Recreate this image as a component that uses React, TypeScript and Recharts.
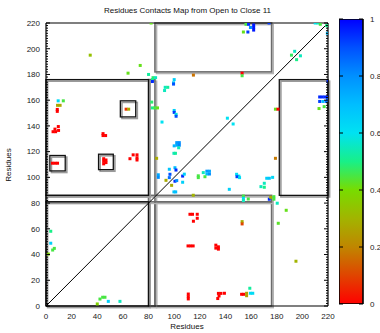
import React from 'react';
import {
  ScatterChart,
  Scatter,
  XAxis,
  YAxis,
  ReferenceArea,
  ReferenceLine,
  BarChart,
  Bar,
} from 'recharts';

const FONT = '"Liberation Sans", Arial, Helvetica, sans-serif';

// Axis ticks (residue numbers) and colour-scale ticks
const residueTicks = [0, 20, 40, 60, 80, 100, 120, 140, 160, 180, 200, 220];
const minorResidueTicks = Array.from({ length: 111 }, (_, i) => i * 2);
const scaleTicks = [0, 0.2, 0.4, 0.6, 0.8, 1];
const scaleRange = [{ name: 'scale', v: 1 }];

// Contacts: [residue i, residue j, contact value]
const upperBandContacts: [number, number, number][] = [
  [82, 220, 0.42], [156, 219, 0.45], [158, 219, 0.95], [159.5, 216.5, 0.8],
  [162, 218.5, 0.97], [162, 216.5, 0.97], [162, 214.5, 0.97], [154, 213, 0.42],
  [157.5, 213, 0.93], [174, 220, 0.93], [210, 220, 0.6], [212, 220, 0.55],
  [214, 219, 0.45], [219, 218, 0.5], [219.5, 212, 0.7],
  [194, 198, 0.55], [191.5, 195, 0.47], [198.5, 194.5, 0.55], [195.5, 191.5, 0.5],
  [34.5, 195, 0.33], [73.5, 187, 0.42], [64, 181, 0.42], [80, 180, 0.52],
  [115, 179.5, 0.17], [153, 181, 0], [153, 179, 0.45],
];

const hingeContacts: [number, number, number][] = [
  [83.5, 177.5, 0.48], [85.5, 177.5, 0.55], [83, 176, 0.5], [83, 174.5, 0.95],
  [100, 176, 0.65], [99.5, 173.5, 0.68], [99.5, 172.5, 0.9], [93, 170, 0.55],
  [95, 170, 0.52], [92.5, 167.5, 0.55], [82.5, 158.5, 0.48], [83, 154, 0.5],
  [85, 154, 0.45], [87, 154, 0.42], [100, 152, 0.65], [100, 150.5, 0.93],
  [101.5, 149, 0.58], [101.5, 147.5, 0.9], [141.5, 146, 0.6], [146, 141.5, 0.6],
  [90.5, 143, 0.6],
];

const rightBlockContacts: [number, number, number][] = [
  [213.5, 162.5, 0.95], [215.5, 162.5, 0.95], [217.5, 162.5, 0.95], [219.5, 162.5, 0.95],
  [219.5, 160.5, 0.9], [213.5, 159, 0.92], [216, 159, 0.7], [218.5, 159, 0.85],
  [220, 174.5, 0.95], [217, 155, 0.45], [213, 153.5, 0.42], [179, 153, 0.42],
  [181, 153, 0], [179, 114.8, 0.18],
];

const leftBlockContacts: [number, number, number][] = [
  [9.5, 159.5, 0.62], [13.5, 159.5, 0.45], [9, 156, 0.27], [11, 156, 0.27],
  [8.8, 152.8, 0], [8.8, 151.3, 0], [62.5, 153, 0.08], [64.5, 153, 0.28],
  [9.6, 139.5, 0], [5.5, 135.5, 0], [7.5, 135.5, 0], [7, 137.5, 0], [9.8, 136.5, 0],
  [44.5, 134, 0], [44.5, 132.5, 0], [46.5, 132.5, 0],
  [65.5, 114.5, 0], [68, 117.5, 0], [71, 117.5, 0], [71, 115.2, 0], [71, 113.5, 0],
  [5, 111, 0], [7, 111, 0], [9, 111, 0],
  [45, 114.5, 0], [46.8, 113.5, 0], [45, 112.5, 0], [46.8, 111.5, 0], [45, 110.5, 0],
];

const centralContacts: [number, number, number][] = [
  [102, 127, 0.78], [104, 127, 0.8], [102, 125, 0.75], [104, 125, 0.82],
  [100, 124.5, 0.72], [103.5, 123, 0.55], [99.8, 118.7, 0.55], [101, 118.7, 0.52],
  [86.3, 114.8, 0.28],
  [100.6, 107.5, 0.7], [101.4, 105.7, 0.95], [96.2, 106.3, 0.68],
  [87.6, 102, 0.75], [87.6, 100, 0.8], [96.7, 102.4, 0.9], [96.2, 99.8, 0.85],
  [93.6, 97.7, 0.28], [100.6, 97, 0.95], [102, 97.5, 0.8], [98, 93.8, 0.28],
  [99.8, 88.7, 0.68], [101.2, 88.7, 0.7],
  [106.6, 101, 0.95], [107.9, 102.5, 0.65], [106.6, 96.2, 0.65],
  [118.8, 99.8, 0.45], [118.8, 101.2, 0.45], [122.7, 103.7, 0.55],
  [125.5, 104.8, 0.78], [127.5, 104.8, 0.75], [125.5, 102.6, 0.7], [127.5, 102.6, 0.8],
  [124, 100.5, 0.45], [114.9, 86.1, 0.3], [143, 90.7, 0.65],
  [148.7, 102.4, 0.62], [150.5, 101, 0.6], [149, 100.5, 0.92], [151, 99.8, 0.62],
  [170.3, 95.4, 0.55], [167.7, 92.8, 0.55], [170.3, 92.3, 0.5],
  [172.2, 99.3, 0.65], [174.2, 99.3, 0.68], [176.8, 100, 0.63],
];

const lowerBandContacts: [number, number, number][] = [
  [154, 85.5, 0.45], [154, 83.7, 0.62], [157.8, 83.2, 0.45], [154, 82, 0.55],
  [174.2, 83, 0.95], [175.3, 84.5, 0.28], [177.8, 85, 0.45], [177.8, 83, 0.45],
  [180.4, 79.9, 0.55], [187.4, 74.4, 0.42], [181.2, 64.3, 0.43], [195, 34.8, 0.3],
  [112.3, 71.3, 0], [114.3, 71.3, 0], [118, 71.3, 0], [118, 68.2, 0], [115, 65.9, 0],
  [153, 65.6, 0.28], [153, 63.8, 0.1],
  [110.8, 46.7, 0], [112.8, 46.7, 0], [114.8, 46.7, 0],
  [132.5, 47.3, 0], [134.5, 46, 0], [132.5, 45, 0], [134.5, 44.2, 0],
  [111, 9.3, 0], [111, 7.3, 0], [111, 5.5, 0],
  [134.5, 9.8, 0], [136.5, 9.8, 0], [135, 7.8, 0], [134, 5.8, 0], [139.2, 9.9, 0],
  [152.6, 9.1, 0], [154.3, 9.1, 0], [156.5, 9.9, 0.25], [156.5, 8, 0.25],
  [159, 13.8, 0.52], [159.5, 9.9, 0.62], [161.3, 9.9, 0.62],
];

const cornerContacts: [number, number, number][] = [
  [3.7, 58.1, 0.5], [3.7, 48.8, 0.65], [5.2, 43.5, 0.45], [6.5, 44.8, 0.45],
  [1.8, 40.4, 0.38], [42.1, 5.4, 0.45], [44.2, 6.8, 0.45], [46, 6.8, 0.45],
  [48.6, 3.6, 0.65], [57.7, 3.6, 0.55], [40, 1.6, 0.38],
];

// Domain blocks: [x1, x2, y1, y2]
const inkBlocks: [number, number, number, number][] = [
  [0, 80, 86, 176],
  [182, 220, 86, 176],
  [0, 80, 0, 81],
  [3, 15, 105, 117],
  [41, 52.5, 106, 118],
  [58, 70, 147, 159.5],
];
const greyBlocks: [number, number, number, number][] = [
  [85, 176, 182, 220],
  [85, 176, 0, 81],
  [80, 85, 0, 176],
  [0, 176, 81, 86],
];

// Palette: value -> colour
const paletteStops: [number, string][] = [
  [0, '#ff0000'],
  [0.1, '#e04400'],
  [0.2, '#c08600'],
  [0.3, '#a2b400'],
  [0.4, '#78dc00'],
  [0.5, '#18f088'],
  [0.6, '#00e2f2'],
  [0.7, '#00beff'],
  [0.8, '#0090ff'],
  [0.9, '#0050ff'],
  [1, '#0000ff'],
];

const hexToRgb = (h: string) => [1, 3, 5].map((i) => parseInt(h.slice(i, i + 2), 16));

const paletteColor = (v: number) => {
  for (let i = 1; i < paletteStops.length; i++) {
    const [v0, c0] = paletteStops[i - 1];
    const [v1, c1] = paletteStops[i];
    if (v <= v1) {
      const t = (v - v0) / (v1 - v0);
      const a = hexToRgb(c0);
      const b = hexToRgb(c1);
      const rgb = a.map((ch, k) => Math.round(ch + (b[k] - ch) * t));
      return `rgb(${rgb.join(',')})`;
    }
  }
  return paletteStops[paletteStops.length - 1][1];
};

const contacts = [
  ...upperBandContacts,
  ...hingeContacts,
  ...rightBlockContacts,
  ...leftBlockContacts,
  ...centralContacts,
  ...lowerBandContacts,
  ...cornerContacts,
].map(([x, y, v]) => ({ x, y, v }));

const CELL = 3;

const ContactCell = (props: any) => {
  const { cx, cy, payload } = props;
  if (cx == null || cy == null) return <g />;
  return (
    <rect
      x={cx - CELL / 2}
      y={cy - CELL / 2}
      width={CELL}
      height={CELL}
      fill={paletteColor(payload.v)}
    />
  );
};

const blockShape = (ink: string, shade: string, inkWidth: number) => (props: any) => {
  const { x, y, width, height } = props;
  return (
    <g>
      <rect x={x + 1.6} y={y + 1.6} width={width} height={height} fill="none" stroke={shade} strokeWidth={1.6} />
      <rect x={x} y={y} width={width} height={height} fill="none" stroke={ink} strokeWidth={inkWidth} />
    </g>
  );
};

const inkShape = blockShape('#111', '#9a9a9a', 1.3);
const greyShape = blockShape('#6c6c6c', '#b4b4b4', 1.6);

// Inward tick marks: long on major values, short on minor ones
const inwardTick = (side: 'top' | 'bottom' | 'left' | 'right', major: (v: number) => boolean, minorLen: number, majorLen: number) =>
  (props: any) => {
    const { x, y, payload } = props;
    const len = major(payload.value) ? majorLen : minorLen;
    if (!len) return <g />;
    const d =
      side === 'bottom' ? { x2: x, y2: y - len } :
      side === 'top' ? { x2: x, y2: y + len } :
      side === 'left' ? { x2: x + len, y2: y } :
      { x2: x - len, y2: y };
    return <line x1={x} y1={y} {...d} stroke="#000" strokeWidth={1} />;
  };

const isMajorResidue = (v: number) => v % 20 === 0;
const always = () => true;

const tickStyle = { fontSize: 8, fill: '#222', fontFamily: FONT };
const frameLine = { stroke: '#000', strokeWidth: 1.2 };

export default function App() {
  return (
    <div style={{ position: 'absolute', left: 0, top: 0, width: 380, height: 333, background: '#fff', fontFamily: FONT }}>
      <div style={{ position: 'absolute', left: 0, top: 7, width: 375, textAlign: 'center', fontSize: 8, lineHeight: '8px', color: '#111' }}>
        Residues Contacts Map from Open to Close 11
      </div>
      <div style={{ position: 'absolute', left: 46, top: 322.5, width: 282, textAlign: 'center', fontSize: 8, lineHeight: '8px', color: '#111' }}>
        Residues
      </div>
      <div
        style={{
          position: 'absolute',
          left: 9,
          top: 164.5,
          fontSize: 8,
          lineHeight: '8px',
          color: '#111',
          transform: 'translate(-50%, -50%) rotate(-90deg)',
          whiteSpace: 'nowrap',
        }}
      >
        Residues
      </div>

      <div style={{ position: 'absolute', left: 0, top: 0 }}>
        <ScatterChart width={380} height={333} margin={{ top: 23, right: 52, bottom: 7, left: 16 }}>
          <XAxis
            xAxisId="x"
            dataKey="x"
            type="number"
            domain={[0, 220]}
            ticks={residueTicks}
            interval={0}
            allowDataOverflow
            height={20}
            tickSize={0}
            tickMargin={7}
            tickLine={false}
            tick={tickStyle}
            axisLine={frameLine}
          />
          <XAxis xAxisId="xInB" orientation="bottom" mirror type="number" domain={[0, 220]} allowDataOverflow ticks={minorResidueTicks} interval={0} height={1} tickSize={0} tickMargin={0} tickLine={false} axisLine={false} tick={inwardTick('bottom', isMajorResidue, 2, 4)} />
          <XAxis xAxisId="xInT" orientation="top" mirror type="number" domain={[0, 220]} allowDataOverflow ticks={minorResidueTicks} interval={0} height={1} tickSize={0} tickMargin={0} tickLine={false} axisLine={frameLine} tick={inwardTick('top', isMajorResidue, 2, 4)} />

          <YAxis
            yAxisId="y"
            dataKey="y"
            type="number"
            domain={[0, 220]}
            ticks={residueTicks}
            interval={0}
            allowDataOverflow
            width={30}
            tickSize={0}
            tickMargin={6}
            tickLine={false}
            tick={tickStyle}
            axisLine={frameLine}
          />
          <YAxis yAxisId="yInL" orientation="left" mirror type="number" domain={[0, 220]} allowDataOverflow ticks={minorResidueTicks} interval={0} width={1} tickSize={0} tickMargin={0} tickLine={false} axisLine={false} tick={inwardTick('left', isMajorResidue, 2, 4)} />
          <YAxis yAxisId="yInR" orientation="right" mirror type="number" domain={[0, 220]} allowDataOverflow ticks={minorResidueTicks} interval={0} width={1} tickSize={0} tickMargin={0} tickLine={false} axisLine={frameLine} tick={inwardTick('right', isMajorResidue, 2, 4)} />

          {greyBlocks.map(([x1, x2, y1, y2], i) => (
            <ReferenceArea key={`g${i}`} xAxisId="x" yAxisId="y" x1={x1} x2={x2} y1={y1} y2={y2} shape={greyShape} />
          ))}
          {inkBlocks.map(([x1, x2, y1, y2], i) => (
            <ReferenceArea key={`k${i}`} xAxisId="x" yAxisId="y" x1={x1} x2={x2} y1={y1} y2={y2} shape={inkShape} />
          ))}

          <ReferenceLine
            xAxisId="x"
            yAxisId="y"
            segment={[{ x: 0, y: 0 }, { x: 220, y: 220 }]}
            stroke="#000"
            strokeWidth={1}
          />

          <Scatter
            xAxisId="x"
            yAxisId="y"
            data={contacts}
            shape={ContactCell}
            isAnimationActive={false}
          />
        </ScatterChart>
      </div>

      {/* colour scale: gradient bar, frame, inner tick marks and value labels */}
      <div style={{ position: 'absolute', left: 339, top: 11 }}>
        <BarChart
          width={70}
          height={301}
          data={scaleRange}
          margin={{ top: 8, right: 16, bottom: 8, left: 0 }}
          barCategoryGap={0}
        >
          <defs>
            <linearGradient id="paletteGradient" x1="0" y1="1" x2="0" y2="0">
              {paletteStops.map(([v, c]) => (
                <stop key={v} offset={v} stopColor={c} />
              ))}
            </linearGradient>
          </defs>
          <XAxis dataKey="name" type="category" hide />
          <YAxis
            yAxisId="c"
            orientation="right"
            type="number"
            domain={[0, 1]}
            allowDataOverflow
            ticks={scaleTicks}
            interval={0}
            width={30}
            tickSize={0}
            tickMargin={7}
            tickLine={false}
            axisLine={false}
            tick={tickStyle}
          />
          <Bar yAxisId="c" dataKey="v" fill="url(#paletteGradient)" stroke="#000" strokeWidth={1.6} isAnimationActive={false} />
          <YAxis yAxisId="cInL" orientation="left" mirror type="number" domain={[0, 1]} allowDataOverflow ticks={scaleTicks} interval={0} width={1} tickSize={0} tickMargin={0} tickLine={false} axisLine={false} tick={inwardTick('left', always, 4, 4)} />
          <YAxis yAxisId="cInR" orientation="right" mirror type="number" domain={[0, 1]} allowDataOverflow ticks={scaleTicks} interval={0} width={1} tickSize={0} tickMargin={0} tickLine={false} axisLine={false} tick={inwardTick('right', always, 4, 4)} />
        </BarChart>
      </div>
    </div>
  );
}
